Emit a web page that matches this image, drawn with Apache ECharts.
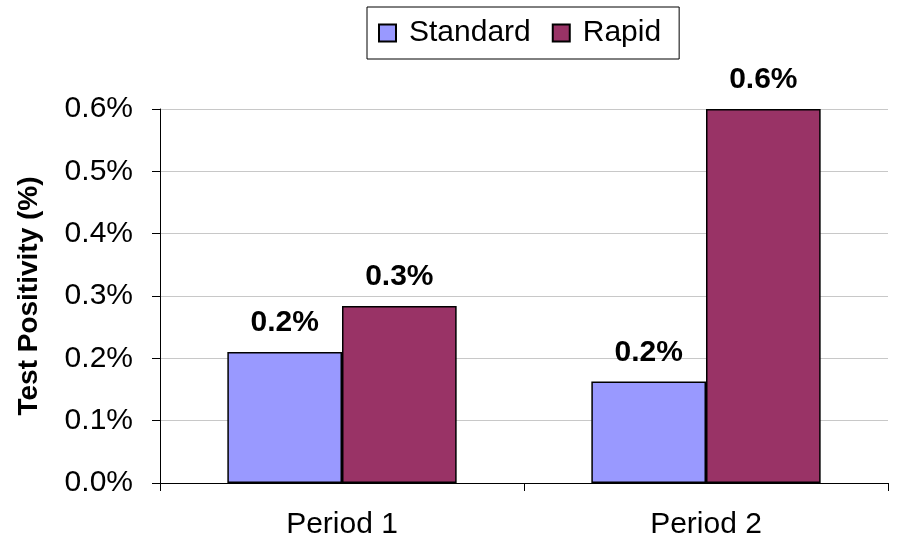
<!DOCTYPE html>
<html>
<head>
<meta charset="utf-8">
<script src="https://cdn.jsdelivr.net/npm/echarts@6/dist/echarts.min.js"></script>
<style>html,body{margin:0;padding:0;background:#fff}#c{width:898px;height:546px}</style>
</head>
<body>
<div id="c"></div>
<script>
const categories = ['Period 1', 'Period 2'];
const standardValues = [0.210, 0.163];
const rapidValues = [0.284, 0.600];
const seriesNames = ['Standard', 'Rapid'];
const yTicks = [0, 0.1, 0.2, 0.3, 0.4, 0.5, 0.6];

const FONT = 'Liberation Sans, Arial, sans-serif';
const chart = echarts.init(document.getElementById('c'), null, {renderer: 'canvas'});
const labelCfg = {
  show: true, position: 'top', distance: 14,
  fontFamily: FONT, fontSize: 30, fontWeight: 'bold', color: '#000',
  formatter: p => p.value.toFixed(1) + '%'
};
chart.setOption({
  animation: false,
  backgroundColor: '#fff',
  textStyle: {fontFamily: FONT},
  legend: {
    top: 7, left: 367,
    data: seriesNames,
    borderColor: '#000', borderWidth: 1,
    padding: [11, 18, 11, 11],
    itemWidth: 17, itemHeight: 17, itemGap: 21,
    icon: 'rect',
    textStyle: {fontFamily: FONT, fontSize: 30, color: '#000', padding: [0, 0, 0, 8]}
  },
  grid: {left: 160, right: 10, top: 109, bottom: 63},
  xAxis: {
    type: 'category',
    data: categories,
    axisLine: {lineStyle: {color: '#000', width: 1}},
    axisTick: {show: true, length: 8, lineStyle: {color: '#000'}},
    axisLabel: {fontFamily: FONT, fontSize: 30, color: '#000', margin: 27}
  },
  yAxis: {
    type: 'value',
    min: yTicks[0], max: yTicks[yTicks.length - 1], interval: 0.1,
    name: 'Test Positivity (%)',
    nameLocation: 'middle', nameRotate: 90, nameGap: 117,
    nameTextStyle: {fontFamily: FONT, fontSize: 28, fontWeight: 'bold', color: '#000'},
    axisLine: {show: true, lineStyle: {color: '#000', width: 1}},
    axisTick: {show: true, length: 8, lineStyle: {color: '#000'}},
    axisLabel: {fontFamily: FONT, fontSize: 30, color: '#000', margin: 27,
      formatter: v => v.toFixed(1) + '%'},
    splitLine: {lineStyle: {color: '#c8c8c8', width: 1}}
  },
  series: [
    {name: seriesNames[0], type: 'bar', data: standardValues,
     barGap: '0%', barCategoryGap: '37%',
     itemStyle: {color: '#9999FF', borderColor: '#000', borderWidth: 1.5},
     label: labelCfg},
    {name: seriesNames[1], type: 'bar', data: rapidValues,
     barGap: '0%', barCategoryGap: '37%',
     itemStyle: {color: '#993366', borderColor: '#000', borderWidth: 1.5},
     label: labelCfg}
  ]
});
</script>
</body>
</html>
